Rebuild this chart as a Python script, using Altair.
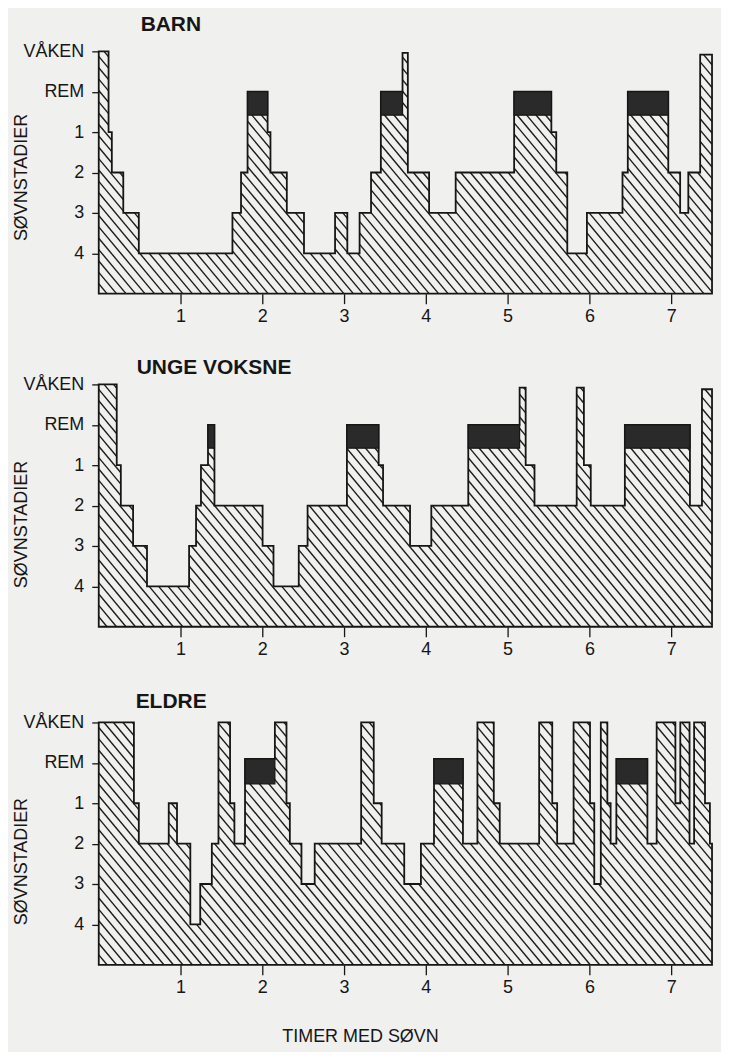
import json
import altair as alt
import pandas as pd

# ---------------- data ----------------
STAGE_LABELS = ["VÅKEN", "REM", "1", "2", "3", "4"]   # depth 0..5
STAGE_DEPTH = [0, 1, 2, 3, 4, 5]
HOUR_TICKS = [1, 2, 3, 4, 5, 6, 7]
NIGHT_END = 7.5       # hours shown
BASE_DEPTH = 6.0      # bottom of the diagram

# each list: start time (hours) of a stage epoch, and its depth (0=VÅKEN,1=REM,2..5=stadium 1..4)
barn_start = [0.0, 0.12, 0.16, 0.30, 0.49, 1.635, 1.74, 1.82, 2.065, 2.10, 2.30, 2.51,
              2.89, 3.04, 3.19, 3.33, 3.45, 3.715, 3.78, 4.04, 4.365, 5.08, 5.535,
              5.595, 5.73, 5.97, 6.405, 6.47, 6.965, 7.11, 7.21, 7.355]
barn_depth = [0, 2, 3, 4, 5, 4, 3, 1, 2, 3, 4, 5, 4, 5, 4, 3, 1, 0.04, 3, 4, 3, 1, 2,
              3, 5, 4, 3, 1, 3, 4, 3, 0.08]
barn_rem = [1.0, 1.58]

unge_start = [0.0, 0.22, 0.27, 0.42, 0.59, 1.105, 1.19, 1.25, 1.336, 1.415, 2.004,
              2.137, 2.446, 2.554, 3.035, 3.423, 3.477, 3.807, 4.067, 4.519, 5.147,
              5.221, 5.329, 5.845, 5.933, 6.017, 6.434, 7.23, 7.377]
unge_depth = [0, 2, 3, 4, 5, 4, 3, 2, 1, 3, 4, 5, 4, 3, 1, 2, 3, 4, 3, 1, 0.08, 2, 3,
              0.08, 2, 3, 1, 3, 0.12]
unge_rem = [1.0, 1.58]

eldre_start = [0.0, 0.43, 0.49, 0.856, 0.957, 1.12, 1.241, 1.383, 1.464, 1.606, 1.659,
               1.789, 2.154, 2.296, 2.337, 2.479, 2.641, 3.209, 3.363, 3.46, 3.736,
               3.94, 4.10, 4.454, 4.631, 4.831, 4.904, 5.386, 5.546, 5.606, 5.807,
               6.008, 6.06, 6.14, 6.22, 6.26, 6.33, 6.71, 6.823, 7.052, 7.112, 7.225,
               7.281, 7.414, 7.474]
eldre_depth = [0, 2, 3, 2, 3, 5, 4, 3, 0, 2, 3, 0.9, 0, 2, 3, 4, 3, 0, 2, 3, 4, 3, 0.9,
               3, 0, 2, 3, 0, 2, 3, 0, 2, 4, 0, 2, 3, 0.9, 3, 0, 2, 0, 3, 0, 2, 3]
eldre_rem = [0.9, 1.52]

# ---------------- layout / style ----------------
W, H = 615, 243
FONT = "Liberation Sans"
INK = "#161616"
PAPER = "#f0f0ee"
HATCH_SLOPE = 1.2         # pixel slope of the hatch lines
HATCH_GAP_PX = 9.5        # horizontal distance between hatch lines

px_h = W / NIGHT_END
px_d = H / BASE_DEPTH
K = HATCH_SLOPE * px_h / px_d
C_STEP = K * HATCH_GAP_PX / px_h


def epochs(starts, depths):
    ends = starts[1:] + [NIGHT_END]
    return list(zip(starts, ends, depths))


def hatch_frame(starts, depths):
    """Clip the diagonal hatch lines to the region under the hypnogram."""
    segs = epochs(starts, depths)
    rows = []
    c = -K * NIGHT_END + 0.05
    while c < BASE_DEPTH:
        cur = None
        for a, b, lev in segs:
            lo = max(a, (lev - c) / K, 0.0)
            hi = min(b, (BASE_DEPTH - c) / K, NIGHT_END)
            if hi > lo + 1e-9:
                if cur is not None and abs(lo - cur[1]) < 1e-9:
                    cur[1] = hi
                else:
                    if cur is not None:
                        rows.append(cur)
                    cur = [lo, hi, c]
        if cur is not None:
            rows.append(cur)
        c += C_STEP
    return pd.DataFrame({
        "t": [r[0] for r in rows],
        "t2": [r[1] for r in rows],
        "d": [K * r[0] + r[2] for r in rows],
        "d2": [K * r[1] + r[2] for r in rows],
    })


def step_frame(starts, depths):
    return pd.DataFrame({"t": starts + [NIGHT_END], "d": depths + [depths[-1]]})


def rem_frame(starts, depths, box):
    segs = epochs(starts, depths)
    sel = [(a, b) for a, b, lev in segs if lev == box[0]]
    return pd.DataFrame({"t": [s[0] for s in sel], "t2": [s[1] for s in sel],
                         "d": [box[0]] * len(sel), "d2": [box[1]] * len(sel)})


label_expr = "%s[datum.value]" % json.dumps(STAGE_LABELS, ensure_ascii=False)
x_scale = alt.Scale(domain=[0, NIGHT_END], nice=False, zero=False)
y_scale = alt.Scale(domain=[0, BASE_DEPTH], nice=False, zero=False, reverse=True)


def panel(name, starts, depths, box, ytitle_y, title_dx, title_offset, last=False):
    x_axis_kw = dict(values=HOUR_TICKS, format="d", tickSize=10, labelPadding=4,
                     domain=False, grid=False, labelFont=FONT, labelFontSize=18,
                     labelColor=INK, tickColor=INK, tickWidth=1.3)
    if last:
        x_axis = alt.Axis(title="TIMER MED SØVN", titleFont=FONT, titleFontSize=18,
                          titleFontWeight="normal", titleColor=INK, titleX=262,
                          titleY=72, titleAlign="center", titleBaseline="middle",
                          **x_axis_kw)
    else:
        x_axis = alt.Axis(title=None, **x_axis_kw)
    y_axis = alt.Axis(values=STAGE_DEPTH, labelExpr=label_expr, tickSize=7,
                      labelPadding=8, domain=False, grid=False, labelFont=FONT,
                      labelFontSize=18, labelColor=INK, tickColor=INK, tickWidth=1.3,
                      title="SØVNSTADIER", titleFont=FONT, titleFontSize=18,
                      titleFontWeight="normal", titleColor=INK, titleAngle=270,
                      titleX=-77, titleY=ytitle_y, titleAlign="center",
                      titleBaseline="middle")
    X = alt.X("t:Q", scale=x_scale, axis=x_axis)
    Y = alt.Y("d:Q", scale=y_scale, axis=y_axis)

    hatch = alt.Chart(hatch_frame(starts, depths)).mark_rule(
        color="#1c1c1c", strokeWidth=1.4).encode(x=X, y=Y, x2="t2:Q", y2="d2:Q")
    outline = alt.Chart(step_frame(starts, depths)).mark_area(
        interpolate="step-after", fillOpacity=0, stroke=INK, strokeWidth=1.8,
        strokeJoin="miter").encode(x=X, y=Y, y2=alt.datum(BASE_DEPTH))
    rem = alt.Chart(rem_frame(starts, depths, box)).mark_rect(
        color="#2a2a2a", stroke=INK, strokeWidth=1.2).encode(x=X, y=Y, x2="t2:Q", y2="d2:Q")
    return alt.layer(hatch, outline, rem).properties(
        width=W, height=H,
        title=alt.TitleParams(name, anchor="start", frame="group", dx=title_dx,
                              offset=title_offset, fontSize=21, font=FONT,
                              fontWeight="bold", color=INK))


p1 = panel("BARN", barn_start, barn_depth, barn_rem, 126, 42, 7)
p2 = panel("UNGE VOKSNE", unge_start, unge_depth, unge_rem, 140, 38, -3)
p3 = panel("ELDRE", eldre_start, eldre_depth, eldre_rem, 139, 37, 2, last=True)

chart = alt.vconcat(p1, p2, p3, spacing=32).properties(
    background=PAPER
).configure_view(stroke=None)

chart.save("out.html", embed_options={"renderer": "svg", "actions": False})
